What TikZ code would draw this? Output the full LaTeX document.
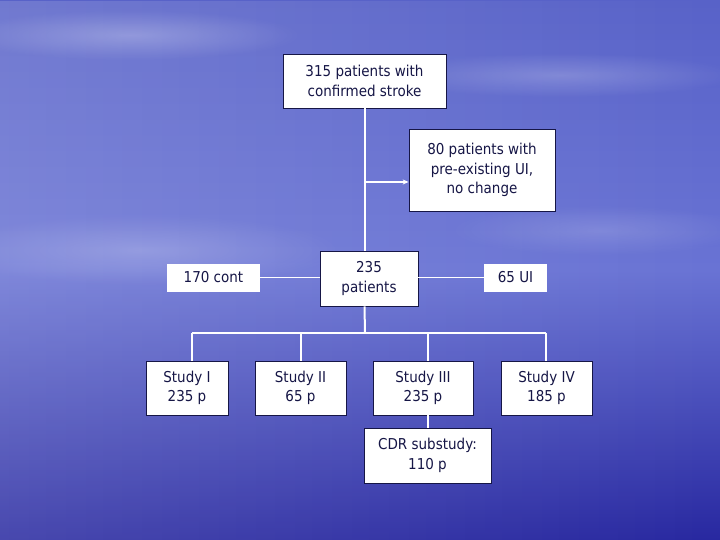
\documentclass[tikz,border=0pt]{standalone}
\usepackage{fontspec}
\setmainfont{DejaVu Sans}[FakeStretch=0.9]
\usetikzlibrary{arrows.meta,fadings}
\definecolor{txt}{RGB}{22,22,70}
\definecolor{bgtop}{RGB}{88,98,200}
\definecolor{bgmid}{RGB}{105,115,212}
\definecolor{bgbot}{RGB}{40,40,160}
\tikzfading[name=fuzzy, inner color=transparent!0, outer color=transparent!100]
\begin{document}
\begin{tikzpicture}[x=1pt,y=-1pt,
  box/.style={draw=txt,line width=0.8pt,fill=white,text=txt,align=center,inner sep=0pt,
    font=\fontsize{15}{19.5}\selectfont},
  plain/.style={fill=white,text=txt,align=center,inner sep=0pt,font=\fontsize{15}{19.5}\selectfont},
  wire/.style={white,line width=2pt},
  thin/.style={white,line width=1pt}]
\useasboundingbox (0,0) rectangle (720,540);
\shade[top color=bgtop,bottom color=bgbot,middle color=bgmid,shading angle=0] (0,0) rectangle (720,540);
\fill[white,opacity=0.15,path fading=east] (0,0) rectangle (720,540);
\fill[white,opacity=0.25,path fading=fuzzy] (130,35) ellipse (170 and 25);
\fill[white,opacity=0.2,path fading=fuzzy] (560,75) ellipse (180 and 22);
\fill[white,opacity=0.2,path fading=fuzzy] (140,250) ellipse (200 and 35);
\fill[white,opacity=0.15,path fading=fuzzy] (600,230) ellipse (150 and 25);

\node[box,minimum width=163pt,minimum height=54pt] (a) at (364.5,81) {315 patients with\\confirmed stroke};
\node[box,minimum width=146pt,minimum height=82pt] (b) at (482,170) {80 patients with\\pre-existing UI,\\no change};
\node[box,minimum width=98pt,minimum height=55pt] (c) at (369,278.5) {235\\patients};
\node[plain,minimum width=93pt,minimum height=28pt] (l) at (213.5,277.5) {170 cont};
\node[plain,minimum width=63pt,minimum height=28pt] (r) at (515.5,277.5) {65 UI};
\node[box,minimum width=82pt,minimum height=54pt] (s1) at (187,388) {Study I\\235 p};
\node[box,minimum width=91pt,minimum height=54pt] (s2) at (300.5,388) {Study II\\65 p};
\node[box,minimum width=100pt,minimum height=54pt] (s3) at (423,388) {Study III\\235 p};
\node[box,minimum width=91pt,minimum height=54pt] (s4) at (546.5,388) {Study IV\\185 p};
\node[box,minimum width=127pt,minimum height=55pt] (cdr) at (427.5,455.5) {CDR substudy:\\110 p};

\coordinate (j) at (365,182);
\coordinate (bus) at (365,333);
\draw[wire] (a.south) -- (a.south |- c.north);
\draw[white,line width=1.5pt,-{Stealth[length=6pt,width=5pt]}] (j) -- (b.west |- j);
\draw[thin] (l.east) -- (c.west |- l.east);
\draw[thin] (c.east |- r.west) -- (r.west);
\draw[wire] (a.south |- c.south) -- (bus);
\draw[wire] (192,333) -- (546,333);
\draw[wire] (192,333) -- (192,361);
\draw[wire] (301,333) -- (301,361);
\draw[wire] (428,333) -- (428,361);
\draw[wire] (546,333) -- (546,361);
\draw[wire] (428,415) -- (428,428);
\end{tikzpicture}
\end{document}
